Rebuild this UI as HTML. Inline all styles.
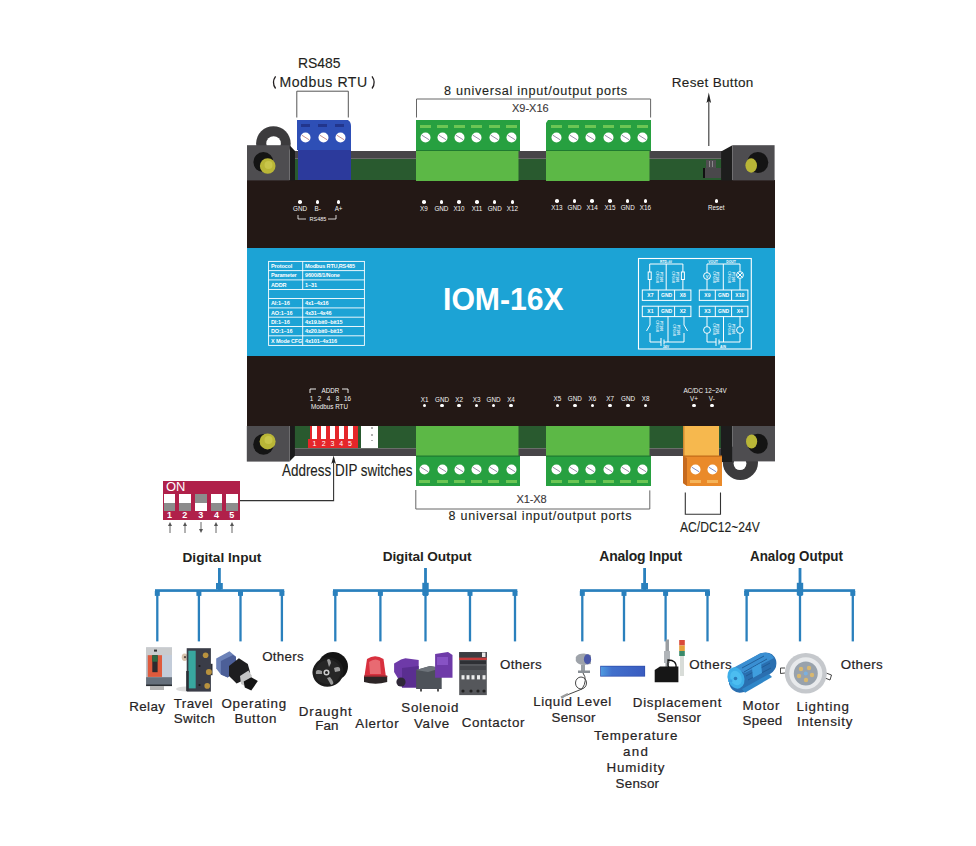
<!DOCTYPE html><html><head><meta charset="utf-8"><style>
*{margin:0;padding:0;box-sizing:border-box}
html,body{width:976px;height:846px;background:#fff;overflow:hidden}
body{position:relative;font-family:"Liberation Sans",sans-serif}
.t{position:absolute;white-space:nowrap;line-height:1}
.r{position:absolute}
.tb{color:#fff;font-size:5.5px;line-height:7px;font-weight:bold;letter-spacing:-0.15px}
.sm{color:#f4f4f4;font-size:6.3px;line-height:8px}
</style></head><body>
<div class="r" style="left:290px;top:151px;width:432px;height:7px;background:#474548;"></div>
<div class="r" style="left:290px;top:158px;width:432px;height:1px;background:#6a6a6a;"></div>
<div class="r" style="left:290px;top:159px;width:432px;height:21px;background:#295a2f;"></div>
<div class="r" style="left:290px;top:426px;width:432px;height:22px;background:#295a2f;"></div>
<div class="r" style="left:290px;top:448px;width:432px;height:8px;background:#474548;"></div>
<div class="r" style="left:290px;top:448px;width:432px;height:1px;background:#6a6e6a;"></div>
<div class="r" style="left:247px;top:180px;width:528px;height:246px;background:#231815;"></div>
<div class="r" style="left:247px;top:248px;width:528px;height:108px;background:#1ca3d5;"></div>
<svg class="r" style="left:0;top:0" width="976" height="846"><circle cx="273.4" cy="143.5" r="17.3" fill="#3c3b3d"/><circle cx="273.6" cy="143.5" r="7.3" fill="#fff"/><path d="M289.6 145.2 L295 151 L295 180.4 L289.6 180.4Z" fill="#1b1b1b"/><rect x="247" y="145.2" width="42.6" height="35.2" fill="#4e4d50"/><circle cx="263.4" cy="162.1" r="10" fill="#141414"/><circle cx="267.7" cy="166" r="7.8" fill="#b9b637"/><circle cx="268.5" cy="165" r="4" fill="#c9c64a"/><path d="M721.1 151.4 L732.4 145.2 L732.4 180.4 L721.1 180.4Z" fill="#1d1d1d"/><rect x="732.4" y="145.2" width="42.2" height="35.2" fill="#4e4d50"/><circle cx="757.8" cy="162.5" r="10.5" fill="#141414"/><ellipse cx="751.2" cy="165.5" rx="5.8" ry="7.2" fill="#b9b637"/><path d="M289.5 426 L294.9 426 L294.9 456 L289.5 461.6Z" fill="#1b1b1b"/><rect x="246.8" y="426" width="42.7" height="35.6" fill="#4e4d50"/><circle cx="263.5" cy="444.4" r="10.3" fill="#141414"/><circle cx="267.6" cy="441.4" r="8" fill="#b9b637"/><circle cx="268.5" cy="440" r="4" fill="#c9c64a"/><circle cx="740.4" cy="462.4" r="17.6" fill="#3c3b3d"/><circle cx="740" cy="463.6" r="6.4" fill="#fff"/><rect x="720.8" y="426" width="11.5" height="36" fill="#1d1d1d"/><rect x="732.3" y="426" width="42.7" height="35.4" fill="#4e4d50"/><circle cx="757.8" cy="443.8" r="10" fill="#141414"/><ellipse cx="751.6" cy="441.5" rx="5.6" ry="7" fill="#b9b637"/></svg>
<svg class="r" style="left:296px;top:119px" width="58" height="62"><path d="M1 1 H52 Q55 3 55 7 V31 H1Z" fill="#2e4fb6"/><rect x="2" y="31" width="53" height="30" fill="#2c3a9c"/><rect x="5" y="5" width="9" height="3" fill="#22358c"/><rect x="22" y="5" width="9" height="3" fill="#22358c"/><rect x="39" y="5" width="9" height="3" fill="#22358c"/></svg>
<svg class="r" style="left:300.1px;top:132.0px" width="11" height="11"><circle cx="5.5" cy="5.5" r="5" fill="#fff"/><line x1="1.8" y1="3.2" x2="9.2" y2="7.8" stroke="#c08080" stroke-width="0.9"/></svg>
<svg class="r" style="left:317.5px;top:132.0px" width="11" height="11"><circle cx="5.5" cy="5.5" r="5" fill="#fff"/><line x1="1.8" y1="3.2" x2="9.2" y2="7.8" stroke="#c08080" stroke-width="0.9"/></svg>
<svg class="r" style="left:334.5px;top:132.0px" width="11" height="11"><circle cx="5.5" cy="5.5" r="5" fill="#fff"/><line x1="1.8" y1="3.2" x2="9.2" y2="7.8" stroke="#c08080" stroke-width="0.9"/></svg>
<svg class="r" style="left:416px;top:120px" width="104" height="61"><path d="M0 0 H104 V31 H0Z" fill="#27a040"/><rect x="0" y="30" width="104" height="1.2" fill="#1f7a30"/><rect x="0" y="31" width="102.5" height="30" fill="#5cb846"/></svg>
<svg class="r" style="left:546px;top:120px" width="105" height="61"><path d="M2 0 H105 V31 H0 V3Z" fill="#27a040"/><rect x="0" y="30" width="105" height="1.2" fill="#1f7a30"/><rect x="0" y="31" width="103.5" height="30" fill="#5cb846"/></svg>
<div class="r" style="left:419.5px;top:124.5px;width:11.0px;height:3.0px;background:#6cc654;"></div>
<svg class="r" style="left:419.5px;top:132.2px" width="11" height="11"><circle cx="5.5" cy="5.5" r="5" fill="#fff"/><line x1="1.8" y1="3.2" x2="9.2" y2="7.8" stroke="#8a7f9a" stroke-width="0.9"/></svg>
<div class="r" style="left:436.5px;top:124.5px;width:11.0px;height:3.0px;background:#6cc654;"></div>
<svg class="r" style="left:436.5px;top:132.2px" width="11" height="11"><circle cx="5.5" cy="5.5" r="5" fill="#fff"/><line x1="1.8" y1="3.2" x2="9.2" y2="7.8" stroke="#8a7f9a" stroke-width="0.9"/></svg>
<div class="r" style="left:453.5px;top:124.5px;width:11.0px;height:3.0px;background:#6cc654;"></div>
<svg class="r" style="left:453.5px;top:132.2px" width="11" height="11"><circle cx="5.5" cy="5.5" r="5" fill="#fff"/><line x1="1.8" y1="3.2" x2="9.2" y2="7.8" stroke="#8a7f9a" stroke-width="0.9"/></svg>
<div class="r" style="left:470.5px;top:124.5px;width:11.0px;height:3.0px;background:#6cc654;"></div>
<svg class="r" style="left:470.5px;top:132.2px" width="11" height="11"><circle cx="5.5" cy="5.5" r="5" fill="#fff"/><line x1="1.8" y1="3.2" x2="9.2" y2="7.8" stroke="#8a7f9a" stroke-width="0.9"/></svg>
<div class="r" style="left:488.5px;top:124.5px;width:11.0px;height:3.0px;background:#6cc654;"></div>
<svg class="r" style="left:488.5px;top:132.2px" width="11" height="11"><circle cx="5.5" cy="5.5" r="5" fill="#fff"/><line x1="1.8" y1="3.2" x2="9.2" y2="7.8" stroke="#8a7f9a" stroke-width="0.9"/></svg>
<div class="r" style="left:505.5px;top:124.5px;width:11.0px;height:3.0px;background:#6cc654;"></div>
<svg class="r" style="left:505.5px;top:132.2px" width="11" height="11"><circle cx="5.5" cy="5.5" r="5" fill="#fff"/><line x1="1.8" y1="3.2" x2="9.2" y2="7.8" stroke="#8a7f9a" stroke-width="0.9"/></svg>
<div class="r" style="left:550.5px;top:124.5px;width:11.0px;height:3.0px;background:#6cc654;"></div>
<svg class="r" style="left:550.5px;top:132.2px" width="11" height="11"><circle cx="5.5" cy="5.5" r="5" fill="#fff"/><line x1="1.8" y1="3.2" x2="9.2" y2="7.8" stroke="#8a7f9a" stroke-width="0.9"/></svg>
<div class="r" style="left:567.5px;top:124.5px;width:11.0px;height:3.0px;background:#6cc654;"></div>
<svg class="r" style="left:567.5px;top:132.2px" width="11" height="11"><circle cx="5.5" cy="5.5" r="5" fill="#fff"/><line x1="1.8" y1="3.2" x2="9.2" y2="7.8" stroke="#8a7f9a" stroke-width="0.9"/></svg>
<div class="r" style="left:585.0px;top:124.5px;width:11.0px;height:3.0px;background:#6cc654;"></div>
<svg class="r" style="left:585.0px;top:132.2px" width="11" height="11"><circle cx="5.5" cy="5.5" r="5" fill="#fff"/><line x1="1.8" y1="3.2" x2="9.2" y2="7.8" stroke="#8a7f9a" stroke-width="0.9"/></svg>
<div class="r" style="left:602.5px;top:124.5px;width:11.0px;height:3.0px;background:#6cc654;"></div>
<svg class="r" style="left:602.5px;top:132.2px" width="11" height="11"><circle cx="5.5" cy="5.5" r="5" fill="#fff"/><line x1="1.8" y1="3.2" x2="9.2" y2="7.8" stroke="#8a7f9a" stroke-width="0.9"/></svg>
<div class="r" style="left:619.5px;top:124.5px;width:11.0px;height:3.0px;background:#6cc654;"></div>
<svg class="r" style="left:619.5px;top:132.2px" width="11" height="11"><circle cx="5.5" cy="5.5" r="5" fill="#fff"/><line x1="1.8" y1="3.2" x2="9.2" y2="7.8" stroke="#8a7f9a" stroke-width="0.9"/></svg>
<div class="r" style="left:636.8px;top:124.5px;width:11.0px;height:3.0px;background:#6cc654;"></div>
<svg class="r" style="left:636.8px;top:132.2px" width="11" height="11"><circle cx="5.5" cy="5.5" r="5" fill="#fff"/><line x1="1.8" y1="3.2" x2="9.2" y2="7.8" stroke="#8a7f9a" stroke-width="0.9"/></svg>
<div class="r" style="left:702.5px;top:167.8px;width:18.0px;height:9.799999999999983px;background:#4a484b;border-left:2px solid #111;"></div>
<div class="r" style="left:706px;top:160px;width:9.600000000000023px;height:8px;background:#4f4d50;"></div>
<div class="r" style="left:708.5px;top:161px;width:1.0px;height:6px;background:#8a888a;"></div>
<div class="r" style="left:712px;top:161px;width:1px;height:6px;background:#8a888a;"></div>
<svg class="r" style="left:416px;top:426px" width="104" height="61"><rect x="0" y="0" width="102.5" height="30" fill="#5cb846"/><rect x="0" y="30" width="104" height="30" fill="#27a040"/><rect x="0" y="29.5" width="104" height="1.2" fill="#1f7a30"/></svg>
<svg class="r" style="left:546px;top:426px" width="105" height="61"><rect x="0" y="0" width="103.5" height="30" fill="#5cb846"/><rect x="0" y="30" width="105" height="30" fill="#27a040"/><rect x="0" y="29.5" width="105" height="1.2" fill="#1f7a30"/></svg>
<div class="r" style="left:419.1px;top:479.5px;width:11.0px;height:3.0px;background:#6cc654;"></div>
<svg class="r" style="left:419.1px;top:463.7px" width="11" height="11"><circle cx="5.5" cy="5.5" r="5" fill="#fff"/><line x1="1.8" y1="3.2" x2="9.2" y2="7.8" stroke="#8a7f9a" stroke-width="0.9"/></svg>
<div class="r" style="left:436.5px;top:479.5px;width:11.0px;height:3.0px;background:#6cc654;"></div>
<svg class="r" style="left:436.5px;top:463.7px" width="11" height="11"><circle cx="5.5" cy="5.5" r="5" fill="#fff"/><line x1="1.8" y1="3.2" x2="9.2" y2="7.8" stroke="#8a7f9a" stroke-width="0.9"/></svg>
<div class="r" style="left:453.7px;top:479.5px;width:11.0px;height:3.0px;background:#6cc654;"></div>
<svg class="r" style="left:453.7px;top:463.7px" width="11" height="11"><circle cx="5.5" cy="5.5" r="5" fill="#fff"/><line x1="1.8" y1="3.2" x2="9.2" y2="7.8" stroke="#8a7f9a" stroke-width="0.9"/></svg>
<div class="r" style="left:471.1px;top:479.5px;width:11.0px;height:3.0px;background:#6cc654;"></div>
<svg class="r" style="left:471.1px;top:463.7px" width="11" height="11"><circle cx="5.5" cy="5.5" r="5" fill="#fff"/><line x1="1.8" y1="3.2" x2="9.2" y2="7.8" stroke="#8a7f9a" stroke-width="0.9"/></svg>
<div class="r" style="left:488.1px;top:479.5px;width:11.0px;height:3.0px;background:#6cc654;"></div>
<svg class="r" style="left:488.1px;top:463.7px" width="11" height="11"><circle cx="5.5" cy="5.5" r="5" fill="#fff"/><line x1="1.8" y1="3.2" x2="9.2" y2="7.8" stroke="#8a7f9a" stroke-width="0.9"/></svg>
<div class="r" style="left:505.5px;top:479.5px;width:11.0px;height:3.0px;background:#6cc654;"></div>
<svg class="r" style="left:505.5px;top:463.7px" width="11" height="11"><circle cx="5.5" cy="5.5" r="5" fill="#fff"/><line x1="1.8" y1="3.2" x2="9.2" y2="7.8" stroke="#8a7f9a" stroke-width="0.9"/></svg>
<div class="r" style="left:550.5px;top:479.5px;width:11.0px;height:3.0px;background:#6cc654;"></div>
<svg class="r" style="left:550.5px;top:463.7px" width="11" height="11"><circle cx="5.5" cy="5.5" r="5" fill="#fff"/><line x1="1.8" y1="3.2" x2="9.2" y2="7.8" stroke="#8a7f9a" stroke-width="0.9"/></svg>
<div class="r" style="left:567.5px;top:479.5px;width:11.0px;height:3.0px;background:#6cc654;"></div>
<svg class="r" style="left:567.5px;top:463.7px" width="11" height="11"><circle cx="5.5" cy="5.5" r="5" fill="#fff"/><line x1="1.8" y1="3.2" x2="9.2" y2="7.8" stroke="#8a7f9a" stroke-width="0.9"/></svg>
<div class="r" style="left:585.0px;top:479.5px;width:11.0px;height:3.0px;background:#6cc654;"></div>
<svg class="r" style="left:585.0px;top:463.7px" width="11" height="11"><circle cx="5.5" cy="5.5" r="5" fill="#fff"/><line x1="1.8" y1="3.2" x2="9.2" y2="7.8" stroke="#8a7f9a" stroke-width="0.9"/></svg>
<div class="r" style="left:602.5px;top:479.5px;width:11.0px;height:3.0px;background:#6cc654;"></div>
<svg class="r" style="left:602.5px;top:463.7px" width="11" height="11"><circle cx="5.5" cy="5.5" r="5" fill="#fff"/><line x1="1.8" y1="3.2" x2="9.2" y2="7.8" stroke="#8a7f9a" stroke-width="0.9"/></svg>
<div class="r" style="left:619.5px;top:479.5px;width:11.0px;height:3.0px;background:#6cc654;"></div>
<svg class="r" style="left:619.5px;top:463.7px" width="11" height="11"><circle cx="5.5" cy="5.5" r="5" fill="#fff"/><line x1="1.8" y1="3.2" x2="9.2" y2="7.8" stroke="#8a7f9a" stroke-width="0.9"/></svg>
<div class="r" style="left:636.8px;top:479.5px;width:11.0px;height:3.0px;background:#6cc654;"></div>
<svg class="r" style="left:636.8px;top:463.7px" width="11" height="11"><circle cx="5.5" cy="5.5" r="5" fill="#fff"/><line x1="1.8" y1="3.2" x2="9.2" y2="7.8" stroke="#8a7f9a" stroke-width="0.9"/></svg>
<svg class="r" style="left:683px;top:426px" width="40" height="61"><rect x="0" y="0" width="36" height="30" fill="#f6b84e"/><rect x="0" y="0" width="1.5" height="30" fill="#d08a30"/><path d="M0 30 H39 V60 H4 L0 57Z" fill="#ea8a2a"/><path d="M0 30 L4 32 V60 L0 57Z" fill="#c66a1e"/><rect x="0" y="29.5" width="39" height="1.2" fill="#c06a18"/></svg>
<div class="r" style="left:690.1px;top:479.5px;width:11.0px;height:3.0px;background:#f5b45a;"></div>
<svg class="r" style="left:690.1px;top:463.7px" width="11" height="11"><circle cx="5.5" cy="5.5" r="5" fill="#fff"/><line x1="1.8" y1="3.2" x2="9.2" y2="7.8" stroke="#7080c0" stroke-width="0.9"/></svg>
<div class="r" style="left:707.1px;top:479.5px;width:11.0px;height:3.0px;background:#f5b45a;"></div>
<svg class="r" style="left:707.1px;top:463.7px" width="11" height="11"><circle cx="5.5" cy="5.5" r="5" fill="#fff"/><line x1="1.8" y1="3.2" x2="9.2" y2="7.8" stroke="#7080c0" stroke-width="0.9"/></svg>
<div class="r" style="left:308px;top:439px;width:50px;height:9px;background:#e5262a;"></div>
<div class="r" style="left:310px;top:426px;width:48px;height:14px;background:#e5262a;"></div>
<div class="r" style="left:312.0px;top:426px;width:5.0px;height:12.5px;background:#ffffff;"></div>
<div class="r" style="left:321.1px;top:426px;width:5.0px;height:12.5px;background:#ffffff;"></div>
<div class="r" style="left:329.9px;top:426px;width:5.0px;height:12.5px;background:#ffffff;"></div>
<div class="r" style="left:338.8px;top:426px;width:5.0px;height:12.5px;background:#ffffff;"></div>
<div class="r" style="left:347.5px;top:426px;width:5.0px;height:12.5px;background:#ffffff;"></div>
<div class="r" style="left:361px;top:426px;width:17px;height:22px;background:#ffffff;"></div>
<div class="r" style="left:371px;top:427.4px;width:1.6000000000000227px;height:1.6000000000000227px;background:#b0b0b0;"></div>
<div class="r" style="left:371px;top:434.0px;width:1.6000000000000227px;height:1.6000000000000227px;background:#b0b0b0;"></div>
<div class="r" style="left:371px;top:439.7px;width:1.6000000000000227px;height:1.6000000000000227px;background:#b0b0b0;"></div>
<div class="r" style="left:298.25px;top:200.05px;width:3.5px;height:3.5px;border-radius:50%;background:#fff"></div>
<div class="t sm" style="left:280px;top:205.20000000000002px;width:40px;text-align:center">GND</div>
<div class="r" style="left:315.85px;top:200.05px;width:3.5px;height:3.5px;border-radius:50%;background:#fff"></div>
<div class="t sm" style="left:297.6px;top:205.20000000000002px;width:40px;text-align:center">B-</div>
<div class="r" style="left:336.85px;top:200.05px;width:3.5px;height:3.5px;border-radius:50%;background:#fff"></div>
<div class="t sm" style="left:318.6px;top:205.20000000000002px;width:40px;text-align:center">A+</div>
<div class="r" style="left:422.05px;top:200.05px;width:3.5px;height:3.5px;border-radius:50%;background:#fff"></div>
<div class="t sm" style="left:403.8px;top:205.20000000000002px;width:40px;text-align:center">X9</div>
<div class="r" style="left:439.65px;top:200.05px;width:3.5px;height:3.5px;border-radius:50%;background:#fff"></div>
<div class="t sm" style="left:421.4px;top:205.20000000000002px;width:40px;text-align:center">GND</div>
<div class="r" style="left:457.25px;top:200.05px;width:3.5px;height:3.5px;border-radius:50%;background:#fff"></div>
<div class="t sm" style="left:439px;top:205.20000000000002px;width:40px;text-align:center">X10</div>
<div class="r" style="left:475.25px;top:200.05px;width:3.5px;height:3.5px;border-radius:50%;background:#fff"></div>
<div class="t sm" style="left:457px;top:205.20000000000002px;width:40px;text-align:center">X11</div>
<div class="r" style="left:492.95px;top:200.05px;width:3.5px;height:3.5px;border-radius:50%;background:#fff"></div>
<div class="t sm" style="left:474.7px;top:205.20000000000002px;width:40px;text-align:center">GND</div>
<div class="r" style="left:510.54999999999995px;top:200.05px;width:3.5px;height:3.5px;border-radius:50%;background:#fff"></div>
<div class="t sm" style="left:492.29999999999995px;top:205.20000000000002px;width:40px;text-align:center">X12</div>
<div class="r" style="left:555.15px;top:199.45px;width:3.5px;height:3.5px;border-radius:50%;background:#fff"></div>
<div class="t sm" style="left:536.9px;top:204.4px;width:40px;text-align:center">X13</div>
<div class="r" style="left:572.75px;top:199.45px;width:3.5px;height:3.5px;border-radius:50%;background:#fff"></div>
<div class="t sm" style="left:554.5px;top:204.4px;width:40px;text-align:center">GND</div>
<div class="r" style="left:590.45px;top:199.45px;width:3.5px;height:3.5px;border-radius:50%;background:#fff"></div>
<div class="t sm" style="left:572.2px;top:204.4px;width:40px;text-align:center">X14</div>
<div class="r" style="left:608.25px;top:199.45px;width:3.5px;height:3.5px;border-radius:50%;background:#fff"></div>
<div class="t sm" style="left:590px;top:204.4px;width:40px;text-align:center">X15</div>
<div class="r" style="left:625.95px;top:199.45px;width:3.5px;height:3.5px;border-radius:50%;background:#fff"></div>
<div class="t sm" style="left:607.7px;top:204.4px;width:40px;text-align:center">GND</div>
<div class="r" style="left:643.55px;top:199.45px;width:3.5px;height:3.5px;border-radius:50%;background:#fff"></div>
<div class="t sm" style="left:625.3px;top:204.4px;width:40px;text-align:center">X16</div>
<div class="r" style="left:714.55px;top:199.45px;width:3.5px;height:3.5px;border-radius:50%;background:#fff"></div>
<div class="t sm" style="left:696.3px;top:204.4px;width:40px;text-align:center">Reset</div>
<div class="r" style="left:422.85px;top:403.55px;width:3.5px;height:3.5px;border-radius:50%;background:#fff"></div>
<div class="t sm" style="left:404.6px;top:395.7px;width:40px;text-align:center">X1</div>
<div class="r" style="left:440.25px;top:403.55px;width:3.5px;height:3.5px;border-radius:50%;background:#fff"></div>
<div class="t sm" style="left:422px;top:395.7px;width:40px;text-align:center">GND</div>
<div class="r" style="left:457.45px;top:403.55px;width:3.5px;height:3.5px;border-radius:50%;background:#fff"></div>
<div class="t sm" style="left:439.2px;top:395.7px;width:40px;text-align:center">X2</div>
<div class="r" style="left:474.85px;top:403.55px;width:3.5px;height:3.5px;border-radius:50%;background:#fff"></div>
<div class="t sm" style="left:456.6px;top:395.7px;width:40px;text-align:center">X3</div>
<div class="r" style="left:491.85px;top:403.55px;width:3.5px;height:3.5px;border-radius:50%;background:#fff"></div>
<div class="t sm" style="left:473.6px;top:395.7px;width:40px;text-align:center">GND</div>
<div class="r" style="left:509.25px;top:403.55px;width:3.5px;height:3.5px;border-radius:50%;background:#fff"></div>
<div class="t sm" style="left:491px;top:395.7px;width:40px;text-align:center">X4</div>
<div class="r" style="left:555.55px;top:403.65px;width:3.5px;height:3.5px;border-radius:50%;background:#fff"></div>
<div class="t sm" style="left:537.3px;top:395.29999999999995px;width:40px;text-align:center">X5</div>
<div class="r" style="left:573.05px;top:403.65px;width:3.5px;height:3.5px;border-radius:50%;background:#fff"></div>
<div class="t sm" style="left:554.8px;top:395.29999999999995px;width:40px;text-align:center">GND</div>
<div class="r" style="left:590.65px;top:403.65px;width:3.5px;height:3.5px;border-radius:50%;background:#fff"></div>
<div class="t sm" style="left:572.4px;top:395.29999999999995px;width:40px;text-align:center">X6</div>
<div class="r" style="left:608.45px;top:403.65px;width:3.5px;height:3.5px;border-radius:50%;background:#fff"></div>
<div class="t sm" style="left:590.2px;top:395.29999999999995px;width:40px;text-align:center">X7</div>
<div class="r" style="left:626.35px;top:403.65px;width:3.5px;height:3.5px;border-radius:50%;background:#fff"></div>
<div class="t sm" style="left:608.1px;top:395.29999999999995px;width:40px;text-align:center">GND</div>
<div class="r" style="left:643.95px;top:403.65px;width:3.5px;height:3.5px;border-radius:50%;background:#fff"></div>
<div class="t sm" style="left:625.7px;top:395.29999999999995px;width:40px;text-align:center">X8</div>
<div class="r" style="left:692.25px;top:403.65px;width:3.5px;height:3.5px;border-radius:50%;background:#fff"></div>
<div class="t sm" style="left:674px;top:395.29999999999995px;width:40px;text-align:center">V+</div>
<div class="r" style="left:710.05px;top:403.65px;width:3.5px;height:3.5px;border-radius:50%;background:#fff"></div>
<div class="t sm" style="left:691.8px;top:395.29999999999995px;width:40px;text-align:center">V-</div>
<div class="t sm" style="left:665px;top:387.2px;width:80px;text-align:center">AC/DC 12~24V</div>
<svg class="r" style="left:295px;top:212.7px" width="50" height="10"><path d="M3 2 V6 H11 M33 6 H41 V2" stroke="#fff" stroke-width="0.8" fill="none"/></svg>
<div class="t sm" style="left:300px;top:214.7px;width:36px;text-align:center;font-size:5.5px">RS485</div>
<svg class="r" style="left:305px;top:386px" width="50" height="10"><path d="M5 7 V3 H11 M37 3 H43 V7" stroke="#fff" stroke-width="0.9" fill="none"/></svg>
<div class="t sm" style="left:310px;top:387px;width:41px;text-align:center">ADDR</div>
<div class="t sm" style="left:301.5px;top:395px;width:20px;text-align:center">1</div>
<div class="t sm" style="left:309.5px;top:395px;width:20px;text-align:center">2</div>
<div class="t sm" style="left:318.5px;top:395px;width:20px;text-align:center">4</div>
<div class="t sm" style="left:327.5px;top:395px;width:20px;text-align:center">8</div>
<div class="t sm" style="left:337.5px;top:395px;width:20px;text-align:center">16</div>
<div class="t sm" style="left:307px;top:403px;width:45px;text-align:center">Modbus RTU</div>
<div class="t" style="left:443.00px;top:283.94px;font-size:31.25px;letter-spacing:0.000px;font-weight:bold;color:#fff;transform:scaleX(0.9656);transform-origin:0 0;">IOM-16X</div>
<div class="t" style="left:297.60px;top:56.29px;font-size:14.53px;letter-spacing:0.000px;color:#231f20;transform:scaleX(0.9601);transform-origin:0 0;-webkit-text-stroke:0.12px #231f20;">RS485</div>
<div class="t" style="left:279.40px;top:75.06px;font-size:14.10px;letter-spacing:0.563px;color:#231f20;-webkit-text-stroke:0.12px #231f20;">Modbus RTU</div>
<svg class="r" style="left:270px;top:74px" width="110" height="18"><path d="M5.6 2.3 Q1.2 8.4 5.6 14.5" stroke="#231f20" stroke-width="1.3" fill="none"/><path d="M102 2.3 Q106.4 8.4 102 14.5" stroke="#231f20" stroke-width="1.3" fill="none"/></svg>
<div class="t" style="left:444.00px;top:85.29px;font-size:12.65px;letter-spacing:0.718px;color:#231f20;-webkit-text-stroke:0.12px #231f20;">8 universal input/output ports</div>
<div class="t" style="left:512.30px;top:103.18px;font-size:11.48px;letter-spacing:0.000px;color:#3a3638;transform:scaleX(0.9584);transform-origin:0 0;-webkit-text-stroke:0.12px #3a3638;">X9-X16</div>
<div class="t" style="left:671.80px;top:76.35px;font-size:13.52px;letter-spacing:0.306px;color:#231f20;-webkit-text-stroke:0.12px #231f20;">Reset Button</div>
<svg class="r" style="left:0;top:0" width="976" height="846"><path d="M296.8 117.5 V91.2 H348.3 V117.5" stroke="#555" stroke-width="1" fill="none"/><path d="M416.5 117.5 V99 H650.6 V117.5" stroke="#666" stroke-width="1" fill="none"/><path d="M708.8 146 V100" stroke="#444" stroke-width="1.2"/><path d="M708.8 92.5 L706.5 103 L708.8 101 L711.1 103Z" fill="#222"/><path d="M239.7 500.6 H333.6 V458" stroke="#333" stroke-width="1.1" fill="none"/><path d="M333.6 455.5 L331.3 464 L333.6 462 L335.9 464Z" fill="#222"/><path d="M415.8 490 V509 H649.8 V490.4" stroke="#666" stroke-width="1" fill="none"/><path d="M685.3 492.6 V514.2 H720.5 V492.6" stroke="#333" stroke-width="1.1" fill="none"/></svg>
<div class="t" style="left:282.00px;top:462.66px;font-size:15.99px;letter-spacing:0.000px;color:#231f20;transform:scaleX(0.8400);transform-origin:0 0;-webkit-text-stroke:0.12px #231f20;">Address DIP switches</div>
<div class="t" style="left:516.40px;top:494.45px;font-size:11.05px;letter-spacing:-0.127px;color:#3a3638;-webkit-text-stroke:0.12px #3a3638;">X1-X8</div>
<div class="t" style="left:448.60px;top:510.22px;font-size:12.50px;letter-spacing:0.776px;color:#231f20;-webkit-text-stroke:0.12px #231f20;">8 universal input/output ports</div>
<div class="t" style="left:680.40px;top:520.27px;font-size:14.68px;letter-spacing:0.000px;color:#231f20;transform:scaleX(0.8255);transform-origin:0 0;-webkit-text-stroke:0.12px #231f20;">AC/DC12~24V</div>
<div class="r" style="left:163px;top:480.6px;width:77px;height:39.69999999999993px;background:#b0204a;"></div>
<div class="t" style="left:166.00px;top:481.35px;font-size:12.94px;letter-spacing:0.000px;color:#fff;">ON</div>
<div class="r" style="left:163.7px;top:494px;width:11.599999999999994px;height:8.5px;background:#ffffff;"></div>
<div class="r" style="left:163.7px;top:502.5px;width:11.599999999999994px;height:8.199999999999989px;background:#8c8c8c;"></div>
<div class="t" style="left:159.5px;top:511px;width:20px;text-align:center;font-size:9px;line-height:9px;font-weight:bold;color:#fff">1</div>
<svg class="r" style="left:166.5px;top:521px" width="6" height="13"><path d="M3 3 V12" stroke="#555" stroke-width="0.9"/><path d="M3 1 L1 5 H5Z" fill="#555"/></svg>
<div class="r" style="left:179px;top:494px;width:11.599999999999994px;height:8.5px;background:#ffffff;"></div>
<div class="r" style="left:179px;top:502.5px;width:11.599999999999994px;height:8.199999999999989px;background:#8c8c8c;"></div>
<div class="t" style="left:174.8px;top:511px;width:20px;text-align:center;font-size:9px;line-height:9px;font-weight:bold;color:#fff">2</div>
<svg class="r" style="left:181.8px;top:521px" width="6" height="13"><path d="M3 3 V12" stroke="#555" stroke-width="0.9"/><path d="M3 1 L1 5 H5Z" fill="#555"/></svg>
<div class="r" style="left:195px;top:494px;width:11.599999999999994px;height:8.5px;background:#8c8c8c;"></div>
<div class="r" style="left:195px;top:502.5px;width:11.599999999999994px;height:8.199999999999989px;background:#ffffff;"></div>
<div class="t" style="left:190.8px;top:511px;width:20px;text-align:center;font-size:9px;line-height:9px;font-weight:bold;color:#fff">3</div>
<svg class="r" style="left:197.8px;top:521px" width="6" height="13"><path d="M3 1 V10" stroke="#555" stroke-width="0.9"/><path d="M3 12 L1 8 H5Z" fill="#555"/></svg>
<div class="r" style="left:210.6px;top:494px;width:11.599999999999994px;height:8.5px;background:#ffffff;"></div>
<div class="r" style="left:210.6px;top:502.5px;width:11.599999999999994px;height:8.199999999999989px;background:#8c8c8c;"></div>
<div class="t" style="left:206.4px;top:511px;width:20px;text-align:center;font-size:9px;line-height:9px;font-weight:bold;color:#fff">4</div>
<svg class="r" style="left:213.4px;top:521px" width="6" height="13"><path d="M3 3 V12" stroke="#555" stroke-width="0.9"/><path d="M3 1 L1 5 H5Z" fill="#555"/></svg>
<div class="r" style="left:226px;top:494px;width:11.599999999999994px;height:8.5px;background:#ffffff;"></div>
<div class="r" style="left:226px;top:502.5px;width:11.599999999999994px;height:8.199999999999989px;background:#8c8c8c;"></div>
<div class="t" style="left:221.8px;top:511px;width:20px;text-align:center;font-size:9px;line-height:9px;font-weight:bold;color:#fff">5</div>
<svg class="r" style="left:228.8px;top:521px" width="6" height="13"><path d="M3 3 V12" stroke="#555" stroke-width="0.9"/><path d="M3 1 L1 5 H5Z" fill="#555"/></svg>
<div class="t" style="left:309.5px;top:440px;width:10px;text-align:center;font-size:7px;line-height:8px;color:#fff">1</div>
<div class="t" style="left:318.6px;top:440px;width:10px;text-align:center;font-size:7px;line-height:8px;color:#fff">2</div>
<div class="t" style="left:327.4px;top:440px;width:10px;text-align:center;font-size:7px;line-height:8px;color:#fff">3</div>
<div class="t" style="left:336.3px;top:440px;width:10px;text-align:center;font-size:7px;line-height:8px;color:#fff">4</div>
<div class="t" style="left:345px;top:440px;width:10px;text-align:center;font-size:7px;line-height:8px;color:#fff">5</div>
<svg class="r" style="left:0;top:0" width="976" height="846"><rect x="268.6" y="261.4" width="95.8" height="84" stroke="#fff" stroke-width="0.9" fill="none"/><line x1="268.6" y1="270.6" x2="364.4" y2="270.6" stroke="#fff" stroke-width="0.9"/><line x1="268.6" y1="279.9" x2="364.4" y2="279.9" stroke="#fff" stroke-width="0.9"/><line x1="268.6" y1="289.5" x2="364.4" y2="289.5" stroke="#fff" stroke-width="0.9"/><line x1="268.6" y1="298.5" x2="364.4" y2="298.5" stroke="#fff" stroke-width="0.9"/><line x1="268.6" y1="307.9" x2="364.4" y2="307.9" stroke="#fff" stroke-width="0.9"/><line x1="268.6" y1="317.2" x2="364.4" y2="317.2" stroke="#fff" stroke-width="0.9"/><line x1="268.6" y1="326.5" x2="364.4" y2="326.5" stroke="#fff" stroke-width="0.9"/><line x1="268.6" y1="335.8" x2="364.4" y2="335.8" stroke="#fff" stroke-width="0.9"/><line x1="302.7" y1="261.4" x2="302.7" y2="289.5" stroke="#fff" stroke-width="0.9"/><line x1="302.7" y1="298.5" x2="302.7" y2="345.4" stroke="#fff" stroke-width="0.9"/></svg>
<div class="t tb" style="left:271px;top:263.0px">Protocol</div>
<div class="t tb" style="left:305px;top:263.0px">Modbus RTU,RS485</div>
<div class="t tb" style="left:271px;top:272.35px">Parameter</div>
<div class="t tb" style="left:305px;top:272.35px">9600/8/1/None</div>
<div class="t tb" style="left:271px;top:281.8px">ADDR</div>
<div class="t tb" style="left:305px;top:281.8px">1~31</div>
<div class="t tb" style="left:271px;top:300.3px">AI:1~16</div>
<div class="t tb" style="left:305px;top:300.3px">4x1~4x16</div>
<div class="t tb" style="left:271px;top:309.65px">AO:1~16</div>
<div class="t tb" style="left:305px;top:309.65px">4x31~4x46</div>
<div class="t tb" style="left:271px;top:318.95000000000005px">DI:1~16</div>
<div class="t tb" style="left:305px;top:318.95000000000005px">4x19.bit0~bit15</div>
<div class="t tb" style="left:271px;top:328.25px">DO:1~16</div>
<div class="t tb" style="left:305px;top:328.25px">4x20.bit0~bit15</div>
<div class="t tb" style="left:271px;top:337.75px">X Mode CFG</div>
<div class="t tb" style="left:305px;top:337.75px">4x101~4x116</div>
<svg class="r" style="left:0;top:0" width="976" height="846"><rect x="218.0" y="568" width="2.8" height="22" fill="#2a80bd"/><rect x="216.0" y="583" width="6.8" height="6.5" fill="#2a80bd"/><rect x="155.0" y="589.2" width="129.2" height="2.7" fill="#2a80bd"/><rect x="154.8" y="591" width="5" height="4.9" fill="#2a80bd"/><rect x="156.15" y="591" width="2.3" height="50.4" fill="#2a80bd"/><rect x="196.4" y="591" width="5" height="4.9" fill="#2a80bd"/><rect x="197.75" y="591" width="2.3" height="50.4" fill="#2a80bd"/><rect x="238.0" y="591" width="5" height="4.9" fill="#2a80bd"/><rect x="239.35" y="591" width="2.3" height="50.4" fill="#2a80bd"/><rect x="279.4" y="591" width="5" height="4.9" fill="#2a80bd"/><rect x="280.75" y="591" width="2.3" height="50.4" fill="#2a80bd"/><rect x="424.1" y="568" width="2.8" height="22" fill="#2a80bd"/><rect x="422.3" y="582.8" width="6.4" height="12.4" fill="#2a80bd"/><rect x="333.0" y="589.2" width="184.29999999999995" height="2.7" fill="#2a80bd"/><rect x="332.8" y="591" width="5" height="4.9" fill="#2a80bd"/><rect x="334.15000000000003" y="591" width="2.3" height="50.4" fill="#2a80bd"/><rect x="377.9" y="591" width="5" height="4.9" fill="#2a80bd"/><rect x="379.25" y="591" width="2.3" height="50.4" fill="#2a80bd"/><rect x="423.0" y="591" width="5" height="4.9" fill="#2a80bd"/><rect x="424.35" y="591" width="2.3" height="50.4" fill="#2a80bd"/><rect x="467.5" y="591" width="5" height="4.9" fill="#2a80bd"/><rect x="468.85" y="591" width="2.3" height="50.4" fill="#2a80bd"/><rect x="512.5" y="591" width="5" height="4.9" fill="#2a80bd"/><rect x="513.85" y="591" width="2.3" height="50.4" fill="#2a80bd"/><rect x="643.2" y="568" width="2.8" height="22" fill="#2a80bd"/><rect x="641.2" y="583" width="6.8" height="6.5" fill="#2a80bd"/><rect x="580.0" y="589.2" width="129.79999999999995" height="2.7" fill="#2a80bd"/><rect x="579.8" y="591" width="5" height="4.9" fill="#2a80bd"/><rect x="581.15" y="591" width="2.3" height="50.4" fill="#2a80bd"/><rect x="621.5" y="591" width="5" height="4.9" fill="#2a80bd"/><rect x="622.85" y="591" width="2.3" height="50.4" fill="#2a80bd"/><rect x="663.1" y="591" width="5" height="4.9" fill="#2a80bd"/><rect x="664.45" y="591" width="2.3" height="50.4" fill="#2a80bd"/><rect x="705.0" y="591" width="5" height="4.9" fill="#2a80bd"/><rect x="706.35" y="591" width="2.3" height="50.4" fill="#2a80bd"/><rect x="798.6" y="568" width="2.8" height="22" fill="#2a80bd"/><rect x="796.8" y="582.8" width="6.4" height="12.4" fill="#2a80bd"/><rect x="744.3000000000001" y="589.2" width="110.79999999999984" height="2.7" fill="#2a80bd"/><rect x="744.1" y="591" width="5" height="4.9" fill="#2a80bd"/><rect x="745.45" y="591" width="2.3" height="50.4" fill="#2a80bd"/><rect x="797.5" y="591" width="5" height="4.9" fill="#2a80bd"/><rect x="798.85" y="591" width="2.3" height="50.4" fill="#2a80bd"/><rect x="850.3" y="591" width="5" height="4.9" fill="#2a80bd"/><rect x="851.65" y="591" width="2.3" height="50.4" fill="#2a80bd"/></svg>
<div class="t" style="left:182.50px;top:550.53px;font-size:13.66px;letter-spacing:-0.000px;font-weight:bold;color:#231f20;">Digital Input</div>
<div class="t" style="left:382.70px;top:550.43px;font-size:13.66px;letter-spacing:-0.116px;font-weight:bold;color:#231f20;">Digital Output</div>
<div class="t" style="left:599.30px;top:550.49px;font-size:13.95px;letter-spacing:-0.205px;font-weight:bold;color:#231f20;">Analog Input</div>
<div class="t" style="left:749.50px;top:550.19px;font-size:13.95px;letter-spacing:0.000px;font-weight:bold;color:#231f20;transform:scaleX(0.9607);transform-origin:0 0;">Analog Output</div>
<div class="t" style="left:129.30px;top:699.98px;font-size:13.37px;letter-spacing:0.359px;color:#262324;-webkit-text-stroke:0.2px #262324;">Relay</div>
<div class="t" style="left:173.70px;top:696.68px;font-size:13.37px;letter-spacing:0.452px;color:#262324;-webkit-text-stroke:0.2px #262324;">Travel</div>
<div class="t" style="left:173.70px;top:711.68px;font-size:13.37px;letter-spacing:0.384px;color:#262324;-webkit-text-stroke:0.2px #262324;">Switch</div>
<div class="t" style="left:221.40px;top:696.68px;font-size:13.37px;letter-spacing:0.762px;color:#262324;-webkit-text-stroke:0.2px #262324;">Operating</div>
<div class="t" style="left:234.40px;top:711.68px;font-size:13.37px;letter-spacing:0.691px;color:#262324;-webkit-text-stroke:0.2px #262324;">Button</div>
<div class="t" style="left:262.20px;top:649.58px;font-size:13.37px;letter-spacing:0.277px;color:#262324;-webkit-text-stroke:0.2px #262324;">Others</div>
<div class="t" style="left:298.80px;top:704.68px;font-size:13.37px;letter-spacing:0.899px;color:#262324;-webkit-text-stroke:0.2px #262324;">Draught</div>
<div class="t" style="left:315.30px;top:719.28px;font-size:13.37px;letter-spacing:0.067px;color:#262324;-webkit-text-stroke:0.2px #262324;">Fan</div>
<div class="t" style="left:355.30px;top:717.38px;font-size:13.37px;letter-spacing:0.670px;color:#262324;-webkit-text-stroke:0.2px #262324;">Alertor</div>
<div class="t" style="left:401.30px;top:701.38px;font-size:13.37px;letter-spacing:0.726px;color:#262324;-webkit-text-stroke:0.2px #262324;">Solenoid</div>
<div class="t" style="left:413.90px;top:717.38px;font-size:13.37px;letter-spacing:0.743px;color:#262324;-webkit-text-stroke:0.2px #262324;">Valve</div>
<div class="t" style="left:461.80px;top:716.08px;font-size:13.37px;letter-spacing:0.579px;color:#262324;-webkit-text-stroke:0.2px #262324;">Contactor</div>
<div class="t" style="left:500.00px;top:657.98px;font-size:13.37px;letter-spacing:0.317px;color:#262324;-webkit-text-stroke:0.2px #262324;">Others</div>
<div class="t" style="left:533.20px;top:695.48px;font-size:13.37px;letter-spacing:0.608px;color:#262324;-webkit-text-stroke:0.2px #262324;">Liquid Level</div>
<div class="t" style="left:551.50px;top:710.68px;font-size:13.37px;letter-spacing:0.342px;color:#262324;-webkit-text-stroke:0.2px #262324;">Sensor</div>
<div class="t" style="left:632.80px;top:695.68px;font-size:13.37px;letter-spacing:0.697px;color:#262324;-webkit-text-stroke:0.2px #262324;">Displacement</div>
<div class="t" style="left:657.00px;top:710.68px;font-size:13.37px;letter-spacing:0.322px;color:#262324;-webkit-text-stroke:0.2px #262324;">Sensor</div>
<div class="t" style="left:594.10px;top:729.48px;font-size:13.37px;letter-spacing:0.822px;color:#262324;-webkit-text-stroke:0.2px #262324;">Temperature</div>
<div class="t" style="left:623.00px;top:744.58px;font-size:13.37px;letter-spacing:1.334px;color:#262324;-webkit-text-stroke:0.2px #262324;">and</div>
<div class="t" style="left:606.40px;top:761.08px;font-size:13.37px;letter-spacing:0.869px;color:#262324;-webkit-text-stroke:0.2px #262324;">Humidity</div>
<div class="t" style="left:615.60px;top:776.78px;font-size:13.37px;letter-spacing:0.222px;color:#262324;-webkit-text-stroke:0.2px #262324;">Sensor</div>
<div class="t" style="left:689.20px;top:658.48px;font-size:13.37px;letter-spacing:0.497px;color:#262324;-webkit-text-stroke:0.2px #262324;">Others</div>
<div class="t" style="left:840.80px;top:657.78px;font-size:13.37px;letter-spacing:0.357px;color:#262324;-webkit-text-stroke:0.2px #262324;">Others</div>
<div class="t" style="left:742.50px;top:699.48px;font-size:13.37px;letter-spacing:0.684px;color:#262324;-webkit-text-stroke:0.2px #262324;">Motor</div>
<div class="t" style="left:742.50px;top:714.18px;font-size:13.37px;letter-spacing:0.289px;color:#262324;-webkit-text-stroke:0.2px #262324;">Speed</div>
<div class="t" style="left:796.50px;top:699.68px;font-size:13.37px;letter-spacing:0.819px;color:#262324;-webkit-text-stroke:0.2px #262324;">Lighting</div>
<div class="t" style="left:797.10px;top:714.68px;font-size:13.37px;letter-spacing:0.686px;color:#262324;-webkit-text-stroke:0.2px #262324;">Intensity</div>
<svg class="r" style="left:0;top:0" width="976" height="846"><defs><linearGradient id="rly" x1="0" x2="1"><stop offset="0" stop-color="#b9bec4"/><stop offset="1" stop-color="#c6d0dc"/></linearGradient></defs><rect x="146.1" y="647.4" width="25.9" height="38.5" fill="url(#rly)"/><rect x="146.1" y="647.4" width="25.9" height="7.8" fill="#c9cbcd"/><rect x="154" y="649.6" width="3" height="2" fill="#333"/><rect x="147.8" y="655.2" width="14.3" height="21.7" fill="#df5a3c"/><rect x="152.3" y="655.2" width="5.3" height="17" fill="#2d2a2e"/><rect x="152.3" y="655.2" width="5.3" height="6.5" fill="#2c6a44"/><rect x="162.1" y="655.2" width="9.9" height="22" fill="#c3ccd9"/><rect x="146.1" y="677.2" width="25.9" height="8.4" fill="#66707c"/><rect x="146.1" y="684.5" width="25.9" height="1.6" fill="#2a2e33"/><rect x="150" y="686" width="14" height="4" fill="#b4b4b4"/><ellipse cx="186" cy="689" rx="10" ry="2.5" fill="#dcdcdc"/><ellipse cx="184.6" cy="657.2" rx="2.9" ry="3.7" fill="#d9c4ae"/><circle cx="185" cy="657.2" r="1.1" fill="#5a4a40"/><rect x="186.7" y="648.2" width="24.2" height="43.4" fill="#3a3d48"/><rect x="188.4" y="650.7" width="7.3" height="37.7" fill="#38a79f"/><rect x="186.2" y="671" width="2.5" height="20" fill="#2c2e36"/><rect x="210.5" y="663.8" width="2" height="11.4" fill="#2c2e36"/><circle cx="205.6" cy="655.2" r="2.8" fill="#b8923e"/><circle cx="208.9" cy="672" r="3" fill="#b8923e"/><circle cx="207.2" cy="685.9" r="2.8" fill="#b8923e"/><circle cx="199.5" cy="666" r="1.1" fill="#1a1a1a"/><circle cx="199.5" cy="685" r="1.1" fill="#1a1a1a"/><path d="M216.2 658.6 L229.5 651.2 L236 656.8 L236 670.4 L227.7 677.5 L220.9 674.5 L216.2 668.6Z" fill="#6c82b8"/><path d="M220.9 661 L233 655 L236 657 L236 670.4 L227.7 677.5 L220.9 674.5Z" fill="#4c5f98"/><path d="M229 666 L238.9 658.3 L247.8 663.9 L250.2 672.8 L243 680.4 L236.6 683.4 L229 676Z" fill="#1e1e20"/><path d="M240 676 L248.5 670.5 L252 676 L245 686 L241 684Z" fill="#c4c4c4"/><path d="M243.7 681.6 L251.3 677.2 L257.8 681 L251.3 690.5 L244.8 687.5Z" fill="#151515"/><ellipse cx="333" cy="666.5" rx="15" ry="14.5" fill="#141414"/><ellipse cx="328" cy="672" rx="15.6" ry="14.6" transform="rotate(-20 328 672)" fill="#1c1c1c"/><ellipse cx="328" cy="672" rx="13" ry="12" transform="rotate(-20 328 672)" fill="#262626"/><path d="M327 660 Q330 657 331 663 L329 667Z M334 668 Q341 665 340 671 L335 672Z M330 677 Q336 684 331 685 L327 678Z M322 671 Q315 668 316 674 L322 674Z" fill="#9a9a9a"/><circle cx="326.5" cy="672.5" r="3" fill="#cfcfcf"/><circle cx="326.5" cy="672.5" r="1.5" fill="#222"/><path d="M364.4 676.4 L367 659 Q375 653.5 383.5 659 L385.9 676.4Z" fill="#d8303e"/><path d="M369 662 Q375 657.5 380 661 L381 674 L370 674Z" fill="#e86a72"/><path d="M364 676 L387.2 676 L387.2 682 Q375.5 685.5 364 682Z" fill="#2c2526"/><rect x="364" y="675.5" width="23.2" height="1.5" fill="#8a2a30"/><path d="M394.1 663.4 L401 659.5 L405.4 658.2 L418.7 660 L418.7 687.4 L402 687.4 L400.2 682 L394.1 672Z" fill="#6e3aa8"/><path d="M402 668 L418.7 666 L418.7 687.4 L402 687.4Z" fill="#5a2e90"/><circle cx="401" cy="682" r="4.6" fill="#2f2838"/><path d="M416.1 670 L430 665.9 L441.7 668 L441.7 689 L416.1 689Z" fill="#4d5259"/><path d="M416.1 670 L430 665.9 L441.7 668 L428 672Z" fill="#6d737a"/><rect x="420" y="689" width="2" height="2.5" fill="#555"/><rect x="437" y="689" width="2" height="2.5" fill="#555"/><path d="M435.1 654 L448 652.1 L452.5 655 L452.5 677.7 L435.1 677.7Z" fill="#6e3aa8"/><rect x="437" y="657" width="11" height="8" fill="#8752c4"/><rect x="459.2" y="652.1" width="27.6" height="43" fill="#55575b"/><rect x="459.2" y="652.1" width="27.6" height="5.6" fill="#3c3e42"/><rect x="482" y="652.5" width="3.5" height="4.5" fill="#e8e8e8"/><rect x="459.2" y="657.7" width="27.6" height="2.3" fill="#c73a3a"/><rect x="460" y="660.5" width="26" height="3.5" fill="#2e3034"/><rect x="460" y="666" width="26" height="4" fill="#45474b"/><rect x="461.5" y="675.2" width="3" height="4.2" fill="#ececec"/><rect x="466.5" y="675.2" width="3" height="4.2" fill="#ececec"/><rect x="471.5" y="675.2" width="3" height="4.2" fill="#ececec"/><rect x="477" y="675.2" width="3" height="4.2" fill="#ececec"/><rect x="482.5" y="675.2" width="3" height="4.2" fill="#ececec"/><circle cx="463" cy="691" r="1.6" fill="#222"/><circle cx="471" cy="691" r="1.6" fill="#222"/><circle cx="478" cy="691" r="1.6" fill="#222"/><circle cx="484" cy="691" r="1.6" fill="#222"/><path d="M575.8 657 Q578 653.6 584 653.6 L590.9 655 L590.9 664 L584 665.1 Q578 665 575.8 661Z" fill="#9ea3aa"/><ellipse cx="587.5" cy="659.3" rx="3.6" ry="5" fill="#4a58a8"/><rect x="581" y="665" width="4" height="7" fill="#9aa0a6"/><rect x="578" y="670.5" width="12" height="2.5" fill="#8a9096"/><ellipse cx="581" cy="683" rx="5.5" ry="6" stroke="#333" stroke-width="0.9" fill="none"/><path d="M583 673 Q588 680 582 689 L562 697" stroke="#444" stroke-width="1" fill="none"/><path d="M568 694 L561 697.5" stroke="#9a9a9a" stroke-width="2.2"/><defs><linearGradient id="th" x1="0" x2="1"><stop offset="0" stop-color="#4f9ae0"/><stop offset="0.25" stop-color="#4270cc"/><stop offset="1" stop-color="#3a5cc0"/></linearGradient></defs><rect x="600.2" y="665.8" width="44.9" height="10.8" fill="#2f4fae"/><rect x="601" y="666.6" width="43.3" height="9.2" fill="url(#th)"/><rect x="665.5" y="639.5" width="3.5" height="28" fill="#9a9ea2"/><rect x="664" y="651" width="6" height="12" fill="#b0b4b8"/><path d="M668 660 Q677 660 676 668 Q672 672 668 666Z" stroke="#111" stroke-width="1.3" fill="none"/><path d="M654.7 670 L660 666.6 L678.4 666.6 L678.4 682.3 L654.7 682.3Z" fill="#161616"/><rect x="679.2" y="640" width="5.6" height="5.5" fill="#d94a3a"/><rect x="679.2" y="645.5" width="5.6" height="5.5" fill="#e6a13a"/><rect x="679.2" y="651" width="5.6" height="5" fill="#3a8a6a"/><rect x="680" y="656" width="4" height="20" fill="#d8dcd8"/><path d="M729 671 L760 653.5 Q772 650 776 660 Q778 669 770 674 L744 692 Q733 695 729 684Z" fill="#2a6fb0"/><path d="M733 668 L760 653.5 Q770 651 774 658 L745 673Z" fill="#3a8fd2"/><path d="M742 668 L764 656 M744 672 L767 659 M746 676 L770 663 M748 680 L771 668" stroke="#1f5a94" stroke-width="0.9"/><ellipse cx="736" cy="678" rx="8.2" ry="11" transform="rotate(-20 736 678)" fill="#3daee8"/><ellipse cx="736" cy="678" rx="5.5" ry="7.5" transform="rotate(-20 736 678)" fill="#4cbdf0"/><circle cx="735.5" cy="678.5" r="1.8" fill="#2a7ab8"/><rect x="728.3" y="679.5" width="4" height="2.5" fill="#3aa0e0"/><path d="M742 689 L769 674 L772 677 L745 692.7Z" fill="#2f86c8"/><path d="M752 668 L761 663 L762 673 L753 678Z" fill="#3f9ede"/><path d="M785 668 L780.5 668 L780.5 673.5 L785 673" stroke="#333" stroke-width="0.9" fill="none"/><path d="M826 673 L831.5 675 L830 680 L825 678" stroke="#333" stroke-width="0.9" fill="none"/><ellipse cx="805.8" cy="673.2" rx="21" ry="20.3" fill="#c5c8cc"/><ellipse cx="805.8" cy="673.2" rx="16.5" ry="16" fill="#e8eaec"/><circle cx="805.8" cy="673.5" r="12" fill="#98a2ac"/><circle cx="801" cy="669" r="2.2" fill="#d8b870"/><circle cx="809" cy="668" r="2.2" fill="#d8b870"/><circle cx="812" cy="675" r="2.2" fill="#d8b870"/><circle cx="806" cy="680" r="2.2" fill="#d8b870"/><circle cx="799" cy="676" r="2.2" fill="#d8b870"/><circle cx="805.8" cy="673.5" r="2" fill="#7ab0e0"/></svg>
<svg class="r" style="left:0;top:0" width="976" height="846"><g stroke="#fff" fill="none" stroke-width="1"><rect x="638.5" y="258.5" width="112.8" height="90.5" stroke-width="1.1"/><rect x="642.3" y="290" width="48.6" height="10.4"/><line x1="658.3" y1="290" x2="658.3" y2="300.4"/><line x1="674.5999999999999" y1="290" x2="674.5999999999999" y2="300.4"/><rect x="699.3" y="290" width="48.6" height="10.4"/><line x1="715.3" y1="290" x2="715.3" y2="300.4"/><line x1="731.5999999999999" y1="290" x2="731.5999999999999" y2="300.4"/><rect x="642.3" y="306.2" width="48.6" height="10.4"/><line x1="658.3" y1="306.2" x2="658.3" y2="316.59999999999997"/><line x1="674.5999999999999" y1="306.2" x2="674.5999999999999" y2="316.59999999999997"/><rect x="699.3" y="306.2" width="48.6" height="10.4"/><line x1="715.3" y1="306.2" x2="715.3" y2="316.59999999999997"/><line x1="731.5999999999999" y1="306.2" x2="731.5999999999999" y2="316.59999999999997"/><path d="M649.7 290 V264 H682.9 V290 M666.2 264 V290"/><path d="M707 290 V264 H740 V290 M723.3 264 V290"/><rect x="648.2" y="272" width="3" height="7.5" fill="#1ca3d5"/><rect x="681.4" y="272" width="3" height="7.5" fill="#1ca3d5"/><circle cx="707" cy="276" r="3.4" fill="#1ca3d5"/><circle cx="740" cy="275" r="3.4" fill="#1ca3d5"/><path d="M737.6 272.6 L742.4 277.4 M742.4 272.6 L737.6 277.4"/><path d="M650 316.2 V325 M650 333 V342 H661 M664 342 H684 V333 M684 325 V316.2 M668 316.2 V342"/><path d="M650 325 L646.5 331 M684 325 L687.5 331"/><path d="M661 338 V346 M664 339.5 V344.5"/><path d="M707 316.2 V326.5 M707 333.5 V342 H716 M719 342 H740 V333.5 M740 326.5 V316.2 M723.5 316.2 V342"/><circle cx="707" cy="330" r="3.4" fill="#1ca3d5"/><circle cx="740" cy="330" r="3.4" fill="#1ca3d5"/><path d="M716 338 V346 M719 339.5 V344.5"/></g><text x="650.4" y="297.2" font-size="5" font-family="Liberation Sans" font-weight="bold" fill="#fff" text-anchor="middle">X7</text><text x="666.6" y="297.2" font-size="5" font-family="Liberation Sans" font-weight="bold" fill="#fff" text-anchor="middle">GND</text><text x="682.8" y="297.2" font-size="5" font-family="Liberation Sans" font-weight="bold" fill="#fff" text-anchor="middle">X8</text><text x="707.4" y="297.2" font-size="5" font-family="Liberation Sans" font-weight="bold" fill="#fff" text-anchor="middle">X9</text><text x="723.6" y="297.2" font-size="5" font-family="Liberation Sans" font-weight="bold" fill="#fff" text-anchor="middle">GND</text><text x="739.8" y="297.2" font-size="5" font-family="Liberation Sans" font-weight="bold" fill="#fff" text-anchor="middle">X10</text><text x="650.4" y="313.4" font-size="5" font-family="Liberation Sans" font-weight="bold" fill="#fff" text-anchor="middle">X1</text><text x="666.6" y="313.4" font-size="5" font-family="Liberation Sans" font-weight="bold" fill="#fff" text-anchor="middle">GND</text><text x="682.8" y="313.4" font-size="5" font-family="Liberation Sans" font-weight="bold" fill="#fff" text-anchor="middle">X2</text><text x="707.4" y="313.4" font-size="5" font-family="Liberation Sans" font-weight="bold" fill="#fff" text-anchor="middle">X3</text><text x="723.6" y="313.4" font-size="5" font-family="Liberation Sans" font-weight="bold" fill="#fff" text-anchor="middle">GND</text><text x="739.8" y="313.4" font-size="5" font-family="Liberation Sans" font-weight="bold" fill="#fff" text-anchor="middle">X4</text><text x="666" y="262.7" font-size="3.4" font-family="Liberation Sans" font-weight="bold" fill="#fff" text-anchor="middle">RTD-##</text><text x="713" y="262.7" font-size="3.4" font-family="Liberation Sans" font-weight="bold" fill="#fff" text-anchor="middle">VOUT</text><text x="731" y="262.7" font-size="3.4" font-family="Liberation Sans" font-weight="bold" fill="#fff" text-anchor="middle">DOUT</text><text x="666" y="347.5" font-size="3.4" font-family="Liberation Sans" font-weight="bold" fill="#fff" text-anchor="middle">24V</text><text x="723" y="347.5" font-size="3.4" font-family="Liberation Sans" font-weight="bold" fill="#fff" text-anchor="middle">AIN</text><text x="707" y="277.5" font-size="4" font-family="Liberation Sans" font-weight="bold" fill="#fff" text-anchor="middle">V</text><text x="656" y="277" font-size="3.6" font-family="Liberation Sans" font-weight="bold" fill="#e8f4fa" text-anchor="middle" transform="rotate(90 656 277)">CFG=4</text><text x="659.8" y="277" font-size="3.6" font-family="Liberation Sans" font-weight="bold" fill="#e8f4fa" text-anchor="middle" transform="rotate(90 659.8 277)">PT100</text><text x="672" y="277" font-size="3.6" font-family="Liberation Sans" font-weight="bold" fill="#e8f4fa" text-anchor="middle" transform="rotate(90 672 277)">CFG=4</text><text x="675.8" y="277" font-size="3.6" font-family="Liberation Sans" font-weight="bold" fill="#e8f4fa" text-anchor="middle" transform="rotate(90 675.8 277)">PT100</text><text x="712.5" y="277" font-size="3.6" font-family="Liberation Sans" font-weight="bold" fill="#e8f4fa" text-anchor="middle" transform="rotate(90 712.5 277)">CFG=4</text><text x="716.3" y="277" font-size="3.6" font-family="Liberation Sans" font-weight="bold" fill="#e8f4fa" text-anchor="middle" transform="rotate(90 716.3 277)">PT100</text><text x="728" y="277" font-size="3.6" font-family="Liberation Sans" font-weight="bold" fill="#e8f4fa" text-anchor="middle" transform="rotate(90 728 277)">CFG=4</text><text x="731.8" y="277" font-size="3.6" font-family="Liberation Sans" font-weight="bold" fill="#e8f4fa" text-anchor="middle" transform="rotate(90 731.8 277)">PT100</text><text x="656" y="326" font-size="3.6" font-family="Liberation Sans" font-weight="bold" fill="#e8f4fa" text-anchor="middle" transform="rotate(90 656 326)">CFG=4</text><text x="659.8" y="326" font-size="3.6" font-family="Liberation Sans" font-weight="bold" fill="#e8f4fa" text-anchor="middle" transform="rotate(90 659.8 326)">PT100</text><text x="673" y="330" font-size="3.6" font-family="Liberation Sans" font-weight="bold" fill="#e8f4fa" text-anchor="middle" transform="rotate(90 673 330)">CFG=4</text><text x="676.8" y="330" font-size="3.6" font-family="Liberation Sans" font-weight="bold" fill="#e8f4fa" text-anchor="middle" transform="rotate(90 676.8 330)">PT100</text><text x="712.5" y="329" font-size="3.6" font-family="Liberation Sans" font-weight="bold" fill="#e8f4fa" text-anchor="middle" transform="rotate(90 712.5 329)">CFG=4</text><text x="716.3" y="329" font-size="3.6" font-family="Liberation Sans" font-weight="bold" fill="#e8f4fa" text-anchor="middle" transform="rotate(90 716.3 329)">PT100</text><text x="728" y="329" font-size="3.6" font-family="Liberation Sans" font-weight="bold" fill="#e8f4fa" text-anchor="middle" transform="rotate(90 728 329)">CFG=4</text><text x="731.8" y="329" font-size="3.6" font-family="Liberation Sans" font-weight="bold" fill="#e8f4fa" text-anchor="middle" transform="rotate(90 731.8 329)">PT100</text></svg>
</body></html>
